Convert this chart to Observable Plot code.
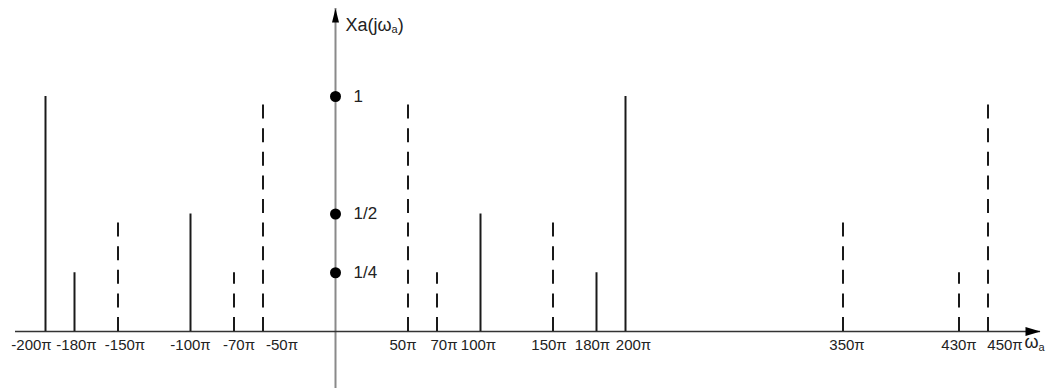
<!DOCTYPE html>
<html><head><meta charset="utf-8">
<script src="https://cdn.jsdelivr.net/npm/d3@7"></script>
<script src="https://cdn.jsdelivr.net/npm/@observablehq/plot@0.6"></script>
<style>
body{margin:0;background:#fff;}
#chart svg{display:block;}
</style>
</head><body><div id="chart"></div>
<script>
// ---- data (angular frequency in units of π, magnitude) ----
const solidW  = [-200, -180, -100, 100, 180, 200];
const solidV  = [1, 0.25, 0.5, 0.5, 0.25, 1];
const dashedW = [-150, -70, -50, 50, 70, 150, 350, 430, 450];
const dashedV = [0.5, 0.25, 1, 1, 0.25, 0.5, 0.5, 0.25, 1];
const tickW      = [-200, -180, -150, -100, -70, -50, 50, 70, 100, 150, 180, 200, 350, 430, 450];
const tickLabels = ["-200π","-180π","-150π","-100π","-70π","-50π","50π","70π","100π","150π","180π","200π","350π","430π","450π"];
const levelV      = [1, 0.5, 0.25];
const levelLabels = ["1", "1/2", "1/4"];
const yTitle = ["Xa(jω", "a", ")"];
const xTitle = ["ω", "a"];

// ---- layout ----
const W = 1052, H = 388;
const FONT = '"Liberation Sans", Arial, Helvetica, sans-serif';
const xRange = [45, 987.5], yRange = [331, 96];
const xDomain = [-200, 450];
const pxPerUnit = (xRange[1] - xRange[0]) / (xDomain[1] - xDomain[0]);
const labelNudge = {"-200": -14, "-180": 2, "-150": 7, "-70": 5, "-50": 19, "50": -5, "70": 7, "100": -2,
                    "150": -4, "180": -4, "200": 8, "350": 4, "450": 17};
const ink = "#1a1a1a";

const ctx = document.createElement("canvas").getContext("2d");
function textW(s, size) { ctx.font = `${size}px ${FONT}`; return ctx.measureText(s).width; }

const solid = solidW.map((w, i) => ({w, v: solidV[i]}));
const dashed = dashedW.map((w, i) => ({w, v: dashedV[i]}));
const ticks = tickW.map((w, i) => ({w, label: tickLabels[i]}));
const levels = levelV.map((v, i) => ({v, label: levelLabels[i]}));

const arrowUp = {draw(c) { c.moveTo(0, 0); c.lineTo(3.5, 14); c.lineTo(-3.5, 14); c.closePath(); }};
const arrowRight = {draw(c) { c.moveTo(0, 0); c.lineTo(-15, 4.5); c.lineTo(-15, -4.5); c.closePath(); }};

const tickSize = 15, valSize = 17, titleSize = 18, subSize = 11;
const yT0 = textW(yTitle[0], titleSize), yT1 = textW(yTitle[1], subSize);

const chart = Plot.plot({
  width: W, height: H,
  marginLeft: 15, marginRight: 12, marginTop: 8, marginBottom: 0,
  x: {domain: xDomain, range: xRange, axis: null},
  y: {domain: [0, 1], range: yRange, axis: null},
  style: {fontFamily: FONT, background: "#fff", overflow: "visible"},
  marks: [
    // axes
    Plot.ruleX([0], {stroke: "#8a8a8a", strokeWidth: 2}),
    Plot.ruleY([0], {stroke: "#333", strokeWidth: 1.5}),
    Plot.dot([0], {x: d => d, frameAnchor: "top", symbol: arrowUp, fill: "#000", stroke: "none", r: 4}),
    Plot.dot([0], {y: d => d, frameAnchor: "right", symbol: arrowRight, fill: "#000", stroke: "none", r: 4}),
    // spectral lines
    Plot.ruleX(solid, {x: "w", y1: 0, y2: "v", stroke: ink, strokeWidth: 2}),
    Plot.ruleX(dashed, {x: "w", y1: 0, y2: "v", stroke: ink, strokeWidth: 2, strokeDasharray: "14,9.6"}),
    // level dots and labels
    Plot.dot(levels, {x: 0, y: "v", r: 5.5, fill: "#000", stroke: "none"}),
    Plot.text(levels, {x: 0, y: "v", text: "label", dx: 18, textAnchor: "start", fontSize: valSize, fill: "#222"}),
    // tick labels
    Plot.text(ticks, {x: d => d.w + (labelNudge[d.w] || 0) / pxPerUnit, y: 0, text: "label", dy: 14,
                      fontSize: tickSize, fill: "#222"}),
    // y title
    Plot.text([yTitle[0]], {x: 0, frameAnchor: "top", lineAnchor: "middle", text: d => d, dx: 10, dy: 17, textAnchor: "start", fontSize: titleSize, fill: "#222"}),
    Plot.text([yTitle[1]], {x: 0, frameAnchor: "top", lineAnchor: "middle", text: d => d, dx: 10 + yT0, dy: 21, textAnchor: "start", fontSize: subSize, fill: "#222"}),
    Plot.text([yTitle[2]], {x: 0, frameAnchor: "top", lineAnchor: "middle", text: d => d, dx: 10 + yT0 + yT1, dy: 17, textAnchor: "start", fontSize: titleSize, fill: "#222"}),
    // x title
    Plot.text([xTitle[0]], {y: 0, frameAnchor: "right", lineAnchor: "middle", text: d => d, dx: -16, dy: 11, textAnchor: "start", fontSize: titleSize, fill: "#222"}),
    Plot.text([xTitle[1]], {y: 0, frameAnchor: "right", lineAnchor: "middle", text: d => d, dx: -16 + textW(xTitle[0], titleSize), dy: 16, textAnchor: "start", fontSize: subSize, fill: "#222"})
  ]
});
document.getElementById("chart").appendChild(chart);
</script>
</body></html>
